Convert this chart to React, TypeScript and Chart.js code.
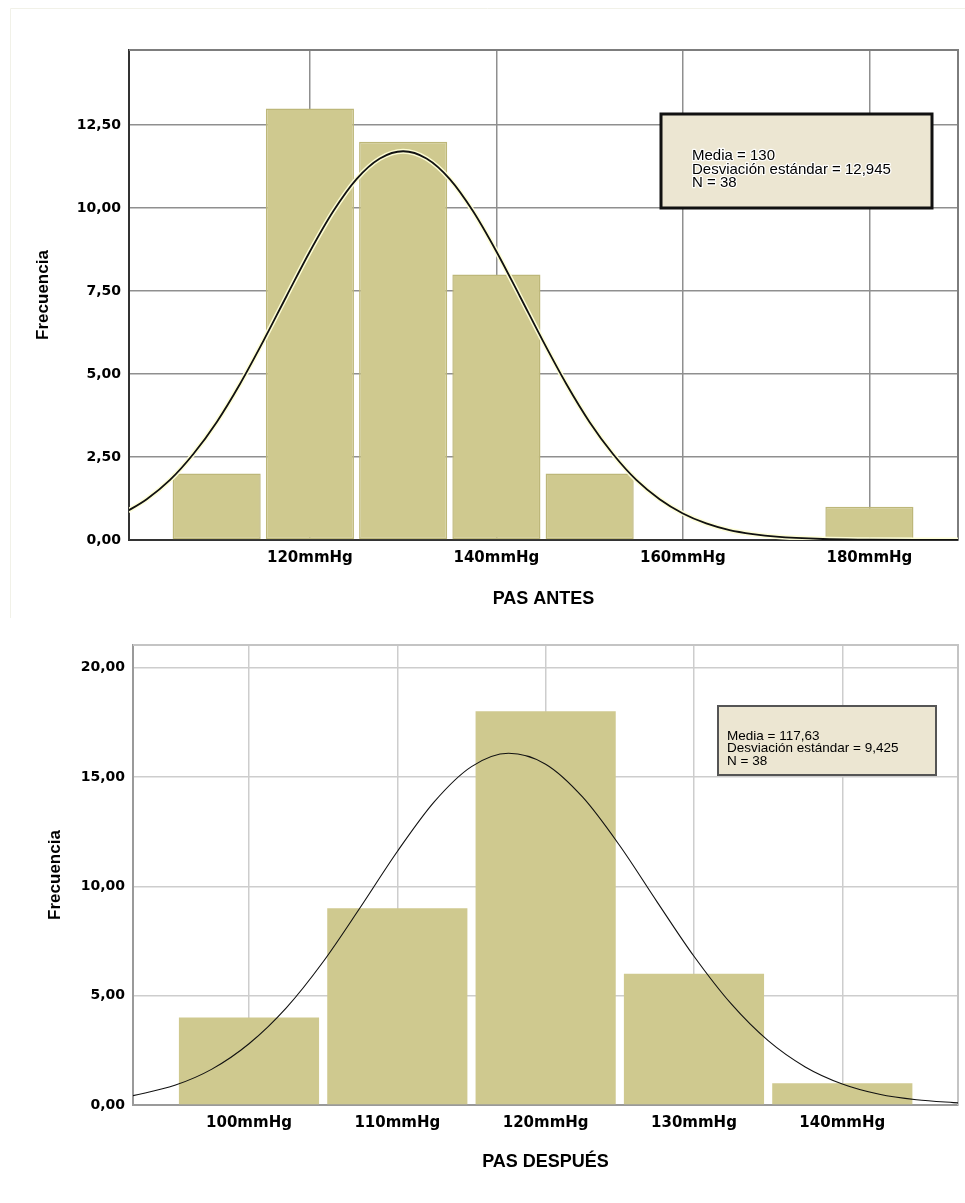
import React, { useEffect, useRef } from "react";
import { Chart, registerables } from "chart.js";

Chart.register(...registerables);

// ---------- Data: PAS ANTES ----------
const antesBinCenters = [110, 120, 130, 140, 150, 180];
const antesCounts = [2, 13, 12, 8, 2, 1];
const antesCurveX = [100, 102.5, 105, 107.5, 110, 112.5, 115, 117.5, 120, 122.5, 125, 127.5, 130, 132.5, 135, 137.5, 140, 142.5, 145, 147.5, 150, 152.5, 155, 157.5, 160, 162.5, 165, 167.5, 170, 175, 180, 185, 190];
const antesCurveY = [0.8, 1.23, 1.81, 2.59, 3.55, 4.7, 5.99, 7.35, 8.69, 9.9, 10.87, 11.49, 11.71, 11.49, 10.87, 9.9, 8.69, 7.35, 5.99, 4.7, 3.55, 2.59, 1.81, 1.23, 0.8, 0.5, 0.3, 0.18, 0.1, 0.03, 0.01, 0.0, 0.0];
const antesXTicks = [120, 140, 160, 180];
const antesYTicks = [0, 2.5, 5, 7.5, 10, 12.5];
const antesStats = ["Media = 130", "Desviación estándar = 12,945", "N = 38"];
const antesTitle = "PAS ANTES";

// ---------- Data: PAS DESPUÉS ----------
const despuesBinCenters = [100, 110, 120, 130, 140];
const despuesCounts = [4, 9, 18, 6, 1];
const despuesCurveX = [92, 95, 97.5, 100, 102.5, 105, 107.5, 110, 112.5, 115, 117.5, 120, 122.5, 125, 127.5, 130, 132.5, 135, 137.5, 140, 142.5, 145, 147.5, 148];
const despuesCurveY = [0.4, 0.9, 1.64, 2.8, 4.43, 6.55, 9.03, 11.59, 13.87, 15.47, 16.08, 15.58, 14.07, 11.85, 9.3, 6.8, 4.63, 2.94, 1.74, 0.96, 0.49, 0.24, 0.11, 0.09];
const despuesXTicks = [100, 110, 120, 130, 140];
const despuesYTicks = [0, 5, 10, 15, 20];
const despuesStats = ["Media = 117,63", "Desviación estándar = 9,425", "N = 38"];
const despuesTitle = "PAS DESPUÉS";

const yLabel = "Frecuencia";

const fmtY = (v: number) => v.toFixed(2).replace(".", ",");
const fmtX = (v: number) => `${v}mmHg`;

type Cfg = {
  width: number;
  height: number;
  centers: number[];
  counts: number[];
  curveX: number[];
  curveY: number[];
  xTicks: number[];
  yTicks: number[];
  xMin: number;
  xMax: number;
  yMax: number;
  stats: string[];
  title: string;
  padTop: number;
  yWidth: number;
  xHeight: number;
  gridColor: string;
  axisColor: string;
  frameColor: string;
  axisWidth: number;
  barBorder: string;
  barBorderWidth: number;
  curveWidth: number;
  halo: boolean;
  box: { dx: number; dy: number; w: number; h: number; border: string; bw: number; font: number; lineStep: number; tx: number; ty: number; textHalo: boolean };
  yTitlePad: number;
  xTitlePad: number;
  tickPad: number;
  outerFrame: boolean;
};

function makeChart(canvas: HTMLCanvasElement, c: Cfg) {
  const framePlugin = {
    id: "frame" + c.title,
    beforeDraw(chart: any) {
      if (!c.outerFrame) return;
      const ctx = chart.ctx;
      ctx.save();
      ctx.strokeStyle = "#f1f1e8";
      ctx.lineWidth = 1;
      ctx.beginPath();
      ctx.moveTo(10.5, c.height - 2);
      ctx.lineTo(10.5, 8.5);
      ctx.lineTo(c.width, 8.5);
      ctx.stroke();
      ctx.restore();
    },
    beforeDatasetsDraw(chart: any) {
      const { ctx, chartArea: a } = chart;
      ctx.save();
      ctx.strokeStyle = c.frameColor;
      ctx.lineWidth = c.axisWidth;
      ctx.beginPath();
      ctx.moveTo(a.left, a.top);
      ctx.lineTo(a.right, a.top);
      ctx.lineTo(a.right, a.bottom);
      ctx.stroke();
      ctx.restore();
    },
    afterDatasetsDraw(chart: any) {
      const { ctx, chartArea: a } = chart;
      const b = c.box;
      const x = a.left + b.dx;
      const y = a.top + b.dy;
      ctx.save();
      ctx.fillStyle = "#ece6d2";
      ctx.fillRect(x, y, b.w, b.h);
      ctx.strokeStyle = b.border;
      ctx.lineWidth = b.bw;
      ctx.strokeRect(x, y, b.w, b.h);
      ctx.font = `${b.font}px "Liberation Sans", Arial, sans-serif`;
      ctx.textBaseline = "middle";
      ctx.textAlign = "left";
      c.stats.forEach((s, i) => {
        const ty = y + b.ty + i * b.lineStep;
        if (b.textHalo) {
          ctx.strokeStyle = "rgba(255,255,255,0.95)";
          ctx.lineWidth = 2.5;
          ctx.lineJoin = "round";
          ctx.strokeText(s, x + b.tx, ty);
        }
        ctx.fillStyle = "#000";
        ctx.fillText(s, x + b.tx, ty);
      });
      ctx.restore();
    },
  };

  const datasets: any[] = [
    {
      type: "line",
      data: c.curveX.map((x, i) => ({ x, y: c.curveY[i] })),
      borderColor: "#111",
      borderWidth: c.curveWidth,
      pointRadius: 0,
      cubicInterpolationMode: "monotone",
      fill: false,
      order: 0,
    },
  ];
  if (c.halo) {
    datasets.push({
      type: "line",
      data: c.curveX.map((x, i) => ({ x, y: c.curveY[i] })),
      borderColor: "rgba(255,255,215,0.95)",
      borderWidth: c.curveWidth + 3,
      pointRadius: 0,
      cubicInterpolationMode: "monotone",
      fill: false,
      order: 1,
    });
  }
  datasets.push({
    type: "bar",
    data: c.centers.map((x, i) => ({ x, y: c.counts[i] })),
    backgroundColor: "#cfc98f",
    borderColor: c.barBorder,
    borderWidth: c.barBorderWidth,
    borderSkipped: false,
    barPercentage: 0.945,
    categoryPercentage: 1,
    order: 2,
  });

  return new Chart(canvas, {
    type: "bar",
    data: { datasets },
    plugins: [framePlugin],
    options: {
      animation: false,
      responsive: false,
      events: [],
      layout: { padding: { top: c.padTop, right: 7, left: 0, bottom: 0 } },
      plugins: { legend: { display: false }, tooltip: { enabled: false } },
      scales: {
        x: {
          type: "linear",
          min: c.xMin,
          max: c.xMax,
          offset: false,
          afterBuildTicks: (s: any) => {
            s.ticks = c.xTicks.map((v) => ({ value: v }));
          },
          afterFit: (s: any) => {
            s.height = c.xHeight;
          },
          grid: { color: c.gridColor, lineWidth: 1.5, drawTicks: false, offset: false },
          border: { display: true, color: c.axisColor, width: c.axisWidth },
          ticks: {
            padding: c.tickPad,
            color: "#000",
            maxRotation: 0,
            autoSkip: false,
            font: { family: '"DejaVu Sans", Verdana, sans-serif', weight: "bold", size: 15 },
            callback: (v: any) => fmtX(Number(v)),
          },
          title: {
            display: true,
            text: c.title,
            color: "#000",
            font: { family: '"Liberation Sans", Arial, sans-serif', weight: "bold", size: 18 },
            padding: { top: 0, bottom: c.xTitlePad },
          },
        },
        y: {
          type: "linear",
          min: 0,
          max: c.yMax,
          afterBuildTicks: (s: any) => {
            s.ticks = c.yTicks.map((v) => ({ value: v }));
          },
          afterFit: (s: any) => {
            s.width = c.yWidth;
          },
          grid: { color: c.gridColor, lineWidth: 1.5, drawTicks: false },
          border: { display: true, color: c.axisColor, width: c.axisWidth },
          ticks: {
            padding: 8,
            color: "#000",
            autoSkip: false,
            font: { family: '"DejaVu Sans", Verdana, sans-serif', weight: "bold", size: 14 },
            callback: (v: any) => fmtY(Number(v)),
          },
          title: {
            display: true,
            text: yLabel,
            color: "#000",
            font: { family: '"Liberation Sans", Arial, sans-serif', weight: "bold", size: 17 },
            padding: { top: c.yTitlePad, bottom: 0 },
          },
        },
      },
    } as any,
  });
}

const topCfg: Cfg = {
  width: 965,
  height: 620,
  centers: antesBinCenters,
  counts: antesCounts,
  curveX: antesCurveX,
  curveY: antesCurveY,
  xTicks: antesXTicks,
  yTicks: antesYTicks,
  xMin: 100.6,
  xMax: 189.5,
  yMax: 14.76,
  stats: antesStats,
  title: antesTitle,
  padTop: 50,
  yWidth: 129,
  xHeight: 80,
  gridColor: "#8f8f8f",
  axisColor: "#333333",
  frameColor: "#7d7d7d",
  axisWidth: 2,
  barBorder: "#bdb779",
  barBorderWidth: 1.5,
  curveWidth: 1.8,
  halo: true,
  box: { dx: 532, dy: 64, w: 271, h: 94, border: "#111", bw: 3, font: 15, lineStep: 13.6, tx: 31, ty: 42, textHalo: true },
  yTitlePad: 33,
  xTitlePad: 10,
  tickPad: 9,
  outerFrame: true,
};

const bottomCfg: Cfg = {
  width: 965,
  height: 583,
  centers: despuesBinCenters,
  counts: despuesCounts,
  curveX: despuesCurveX,
  curveY: despuesCurveY,
  xTicks: despuesXTicks,
  yTicks: despuesYTicks,
  xMin: 92.18,
  xMax: 147.8,
  yMax: 21.03,
  stats: despuesStats,
  title: despuesTitle,
  padTop: 25,
  yWidth: 133,
  xHeight: 98,
  gridColor: "#cdcdcd",
  axisColor: "#9a9a9a",
  frameColor: "#c4c4c4",
  axisWidth: 2,
  barBorder: "#cfc98f",
  barBorderWidth: 0,
  curveWidth: 1.1,
  halo: false,
  box: { dx: 585, dy: 61, w: 218, h: 69, border: "#555", bw: 2, font: 13.5, lineStep: 12.6, tx: 9, ty: 30, textHalo: false },
  yTitlePad: 45,
  xTitlePad: 30,
  tickPad: 9,
  outerFrame: false,
};

export default function App() {
  const topRef = useRef<HTMLCanvasElement>(null);
  const botRef = useRef<HTMLCanvasElement>(null);
  useEffect(() => {
    document.body.style.margin = "0";
    document.body.style.background = "#fff";
    const c1 = makeChart(topRef.current!, topCfg);
    const c2 = makeChart(botRef.current!, bottomCfg);
    return () => {
      c1.destroy();
      c2.destroy();
    };
  }, []);
  return (
    <div style={{ width: 965, height: 1203, background: "#fff" }}>
      <canvas ref={topRef} width={965} height={620} style={{ display: "block", width: 965, height: 620 }} />
      <canvas ref={botRef} width={965} height={583} style={{ display: "block", width: 965, height: 583 }} />
    </div>
  );
}
